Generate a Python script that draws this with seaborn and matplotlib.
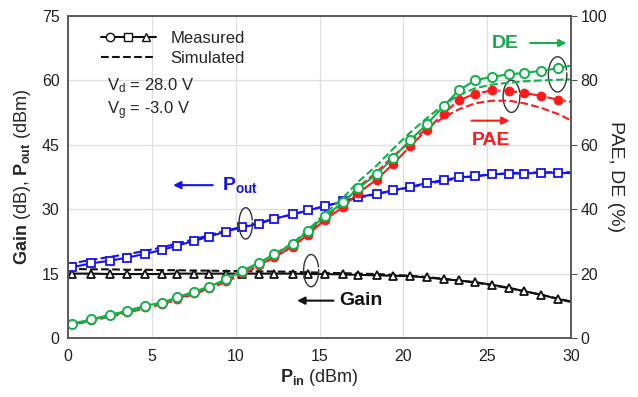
import matplotlib
matplotlib.use("Agg")
import matplotlib.pyplot as plt
import seaborn as sns
from matplotlib.lines import Line2D
from matplotlib.legend_handler import HandlerTuple
from matplotlib.patches import Arc

# ---------------- data ----------------
pin = [0.0, 0.25, 1.4, 2.5, 3.5, 4.6, 5.6, 6.5, 7.5, 8.4, 9.4, 10.4, 11.4, 12.3, 13.4, 14.3,
       15.3, 16.4, 17.3, 18.4, 19.4, 20.4, 21.4, 22.4, 23.3, 24.3, 25.3, 26.3, 27.2, 28.2, 29.2, 30.0]

gain_meas = [15.0, 15.0, 15.0, 14.9, 14.9, 14.9, 14.9, 15.0, 15.0, 15.0, 15.0, 15.0, 15.0, 15.0, 15.0, 14.9,
             14.9, 14.8, 14.7, 14.6, 14.5, 14.4, 14.1, 13.7, 13.4, 13.0, 12.4, 11.7, 10.9, 10.1, 9.1, 8.4]
gain_sim = [16.1, 16.1, 16.0, 16.0, 15.9, 15.9, 15.8, 15.8, 15.7, 15.7, 15.6, 15.6, 15.5, 15.5, 15.4, 15.3,
            15.2, 15.1, 15.0, 14.9, 14.7, 14.5, 14.2, 13.8, 13.4, 12.9, 12.3, 11.6, 10.9, 10.1, 9.2, 8.5]

pout_meas = [16.2, 16.5, 17.4, 18.0, 18.7, 19.6, 20.5, 21.5, 22.6, 23.6, 24.8, 25.8, 26.6, 27.8, 28.8, 29.7,
             30.7, 31.8, 32.8, 33.6, 34.4, 35.2, 36.1, 36.8, 37.4, 37.7, 38.1, 38.3, 38.3, 38.5, 38.5, 38.4]
pout_sim = [17.2, 17.4, 18.2, 18.9, 19.5, 20.3, 21.1, 22.0, 23.0, 23.9, 25.0, 25.9, 26.8, 27.8, 28.8, 29.7,
            30.7, 31.8, 32.7, 33.5, 34.3, 35.1, 35.9, 36.6, 37.2, 37.7, 38.1, 38.4, 38.5, 38.6, 38.6, 38.6]

de_meas = [4.0, 4.45, 5.8, 7.2, 8.4, 10.0, 11.0, 12.6, 14.4, 15.9, 18.2, 20.9, 23.4, 26.0, 29.2, 33.2,
           37.8, 42.1, 46.5, 50.8, 56.0, 61.4, 66.4, 72.0, 76.9, 80.1, 81.1, 81.9, 82.3, 83.0, 83.7, 84.6]
de_sim = [3.8, 4.2, 5.5, 6.8, 8.0, 9.5, 10.8, 12.2, 14.0, 15.8, 18.0, 20.5, 23.2, 26.0, 29.5, 33.5,
          38.5, 43.5, 48.5, 53.5, 58.8, 63.8, 68.3, 72.4, 75.4, 77.6, 78.7, 79.3, 79.7, 80.0, 80.2, 80.3]

pae_meas = [3.9, 4.3, 5.6, 7.0, 8.1, 9.7, 10.6, 12.2, 13.9, 15.4, 17.6, 20.2, 22.6, 25.2, 28.3, 32.1,
            36.6, 40.7, 45.0, 49.2, 54.1, 59.5, 64.7, 69.7, 73.8, 75.9, 76.9, 76.7, 76.1, 75.2, 74.0, 73.3]
pae_sim = [3.7, 4.1, 5.3, 6.6, 7.8, 9.2, 10.5, 11.8, 13.6, 15.3, 17.4, 19.8, 22.4, 25.1, 28.5, 32.4,
           37.2, 42.0, 46.8, 51.5, 56.5, 61.0, 65.0, 68.5, 71.0, 72.9, 73.7, 73.7, 72.9, 71.5, 69.6, 67.6]

x_ticks = [0, 5, 10, 15, 20, 25, 30]
left_ticks = [0, 15, 30, 45, 60, 75]
right_ticks = [0, 20, 40, 60, 80, 100]

# ---------------- style ----------------
sns.set_style("white")
plt.rcParams['font.family'] = ['Liberation Sans', 'DejaVu Sans']
plt.rcParams['mathtext.fontset'] = 'custom'
plt.rcParams['mathtext.rm'] = 'Liberation Sans'
plt.rcParams['mathtext.it'] = 'Liberation Sans:italic'
plt.rcParams['mathtext.bf'] = 'Liberation Sans:bold'

GREEN = '#12B04A'
BLUE = '#1414F0'
RED = '#FF1A1A'
BLACK = '#111111'

fig = plt.figure(figsize=(6.38, 3.97), dpi=100)
ax = fig.add_axes([0.1066, 0.1486, 0.7884, 0.8111])
ax2 = ax.twinx()

marks = list(range(1, len(pin) - 1))
lw = 1.5

# left axis: Gain & Pout
sns.lineplot(x=pin, y=gain_sim, ax=ax, color=BLACK, linestyle='--', linewidth=lw)
sns.lineplot(x=pin, y=gain_meas, ax=ax, color=BLACK, linewidth=lw, marker='^', markevery=marks,
             markersize=6.2, markerfacecolor='white', markeredgecolor=BLACK, markeredgewidth=1.3)
sns.lineplot(x=pin, y=pout_sim, ax=ax, color=BLUE, linestyle='--', linewidth=lw)
sns.lineplot(x=pin, y=pout_meas, ax=ax, color=BLUE, linewidth=lw, marker='s', markevery=marks,
             markersize=5.6, markerfacecolor='white', markeredgecolor=BLUE, markeredgewidth=1.3)

# right axis: PAE & DE
sns.lineplot(x=pin, y=pae_sim, ax=ax2, color=RED, linestyle='--', linewidth=lw)
sns.lineplot(x=pin, y=pae_meas, ax=ax2, color=RED, linestyle='-.', linewidth=lw, marker='o', markevery=marks,
             markersize=6.3, markerfacecolor=RED, markeredgecolor=RED)
sns.lineplot(x=pin, y=de_sim, ax=ax2, color=GREEN, linestyle='--', linewidth=lw)
sns.lineplot(x=pin, y=de_meas, ax=ax2, color=GREEN, linewidth=lw, marker='o', markevery=marks,
             markersize=6.6, markerfacecolor='white', markeredgecolor=GREEN, markeredgewidth=1.4)

# axes limits and ticks
ax.set_xlim(0, 30)
ax.set_ylim(0, 75)
ax2.set_ylim(0, 100)
ax.set_xticks(x_ticks)
ax.set_yticks(left_ticks)
ax2.set_yticks(right_ticks)
ax.grid(True, color='#DEDEDE', linewidth=0.9)
ax.set_axisbelow(True)

for a in (ax, ax2):
    for s in a.spines.values():
        s.set_color('#555555')
        s.set_linewidth(1.1)
ax.tick_params(axis='y', length=0, labelsize=11.5, pad=6, colors='#222222')
ax.tick_params(axis='x', direction='in', length=3, labelsize=11.5, pad=8, colors='#222222')
ax.tick_params(axis='x', color='#555555')
ax2.tick_params(axis='y', direction='out', length=4, labelsize=11.5, pad=3, colors='#222222')
ax2.tick_params(axis='y', color='#555555')

ax.set_xlabel(r"$\mathbf{P_{in}}$ (dBm)", fontsize=13, labelpad=2)
ax.set_ylabel(r"$\mathbf{Gain}$ (dB), $\mathbf{P_{out}}$ (dBm)", fontsize=13, labelpad=6)
ax2.set_ylabel("PAE, DE (%)", fontsize=14, rotation=270, labelpad=12)

# legend
h_meas = (Line2D([], [], color=BLACK, lw=lw, marker='o', markersize=6, mfc='white', mec=BLACK),
          Line2D([], [], color=BLACK, lw=lw, marker='s', markersize=5.5, mfc='white', mec=BLACK),
          Line2D([], [], color=BLACK, lw=lw, marker='^', markersize=6, mfc='white', mec=BLACK))
h_sim = Line2D([], [], color=BLACK, lw=lw, linestyle='--')
ax.legend([h_meas, h_sim], ['Measured', 'Simulated'], handler_map={tuple: HandlerTuple(ndivide=None, pad=0)},
          loc='upper left', bbox_to_anchor=(0.035, 1.0), frameon=False, fontsize=12,
          handlelength=3.3, handletextpad=0.9, labelspacing=0.3)

ax.text(0.077, 0.785, r"V$_\mathrm{d}$ = 28.0 V", transform=ax.transAxes, fontsize=12, va='center')
ax.text(0.077, 0.705, r"V$_\mathrm{g}$ = -3.0 V", transform=ax.transAxes, fontsize=12, va='center')

# annotations
ax.text(9.2, 35.6, r"$\mathbf{P_{out}}$", color=BLUE, fontsize=14, va='center', ha='left')
ax.annotate("", xy=(6.1, 35.6), xytext=(8.8, 35.6),
            arrowprops=dict(arrowstyle='-|>', color=BLUE, lw=1.5, mutation_scale=11))
ax.text(16.2, 8.7, "Gain", color=BLACK, fontsize=14, fontweight='bold', va='center', ha='left')
ax.annotate("", xy=(13.5, 8.7), xytext=(16.0, 8.7),
            arrowprops=dict(arrowstyle='-|>', color=BLACK, lw=1.5, mutation_scale=11))
ax2.text(25.2, 61.4, "PAE", color=RED, fontsize=14, fontweight='bold', va='center', ha='center')
ax2.annotate("", xy=(26.5, 67.5), xytext=(23.9, 67.5),
             arrowprops=dict(arrowstyle='-|>', color=RED, lw=1.5, mutation_scale=11))
ax2.text(26.1, 91.6, "DE", color=GREEN, fontsize=14, fontweight='bold', va='center', ha='center')
ax2.annotate("", xy=(29.9, 91.6), xytext=(27.4, 91.6),
             arrowprops=dict(arrowstyle='-|>', color=GREEN, lw=1.5, mutation_scale=11))

# grouping loops
for (cx, cy, w, h) in [(10.6, 26.7, 0.8, 7.3), (14.5, 15.7, 0.9, 7.5),
                       (26.45, 56.3, 1.0, 7.5), (29.2, 61.4, 1.1, 8.2)]:
    ax.add_patch(Arc((cx, cy), w, h, theta1=60, theta2=400, color='#333333', lw=1.0, zorder=5))

fig.savefig("out.png", dpi=100)
